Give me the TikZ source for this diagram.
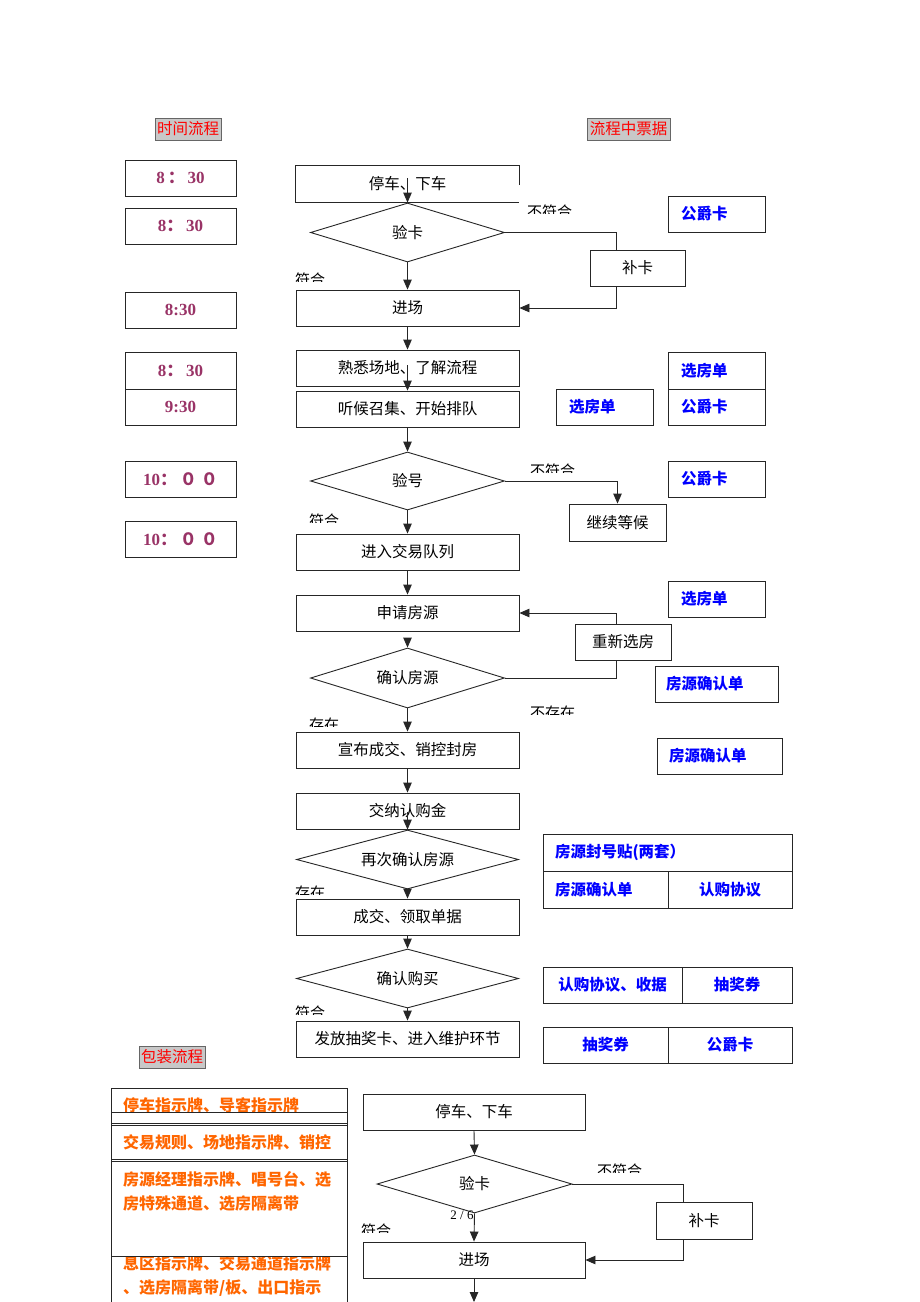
\documentclass[tikz,border=0pt]{standalone}
\usepackage{fontspec}
\setmainfont{Liberation Serif}
\newfontfamily\cjk{Noto Sans CJK SC}
\usetikzlibrary{shapes.geometric,arrows.meta}
\definecolor{tmc}{HTML}{993366}
\definecolor{lblgray}{HTML}{C8C8C8}
\definecolor{orng}{HTML}{FF6600}
\definecolor{tblue}{HTML}{0000FF}
\newcommand{\clab}[4]{% name, x, ytop, text
  \begin{scope}\clip (#2-2,#3-3) rectangle (#2+70,#3+6);
  \node[anchor=north west,inner sep=0pt,font=\cjk\fontsize{15}{15}\selectfont] (#1) at (#2,#3-2) {#4};
  \end{scope}}
\begin{document}
\begin{tikzpicture}[x=1pt,y=-1pt,
  ln/.style={draw=black!85,line width=0.9pt},
  arr/.style={ln,-{Triangle[length=10pt,width=8.5pt]}},
  fbox/.style={ln,inner sep=0pt,minimum width=223pt,minimum height=36pt,font=\cjk\fontsize{15.5}{16}\selectfont},
  dmd/.style={ln,diamond,aspect=4,inner sep=0pt,font=\cjk\fontsize{15.5}{16}\selectfont},
  sbox/.style={ln,inner sep=0pt,minimum height=36pt,font=\cjk\fontsize{15.5}{16}\selectfont},
  tbox/.style={ln,inner sep=0pt,minimum width=111pt,minimum height=36pt,text=tmc,font=\bfseries\fontsize{17}{17}\selectfont},
  pbox/.style={ln,minimum height=36pt,text=tblue,font=\cjk\bfseries\fontsize{15.5}{16}\selectfont},
  pl/.style={pbox,inner ysep=0pt,align=left},
  pc/.style={pbox,inner sep=0pt},
  glbl/.style={draw=black!60,fill=lblgray,inner sep=0pt,minimum height=22pt,text=red,font=\cjk\fontsize{15.5}{16}\selectfont},
  otxt/.style={anchor=west,inner sep=0pt,text=orng,font=\cjk\bfseries\fontsize{16}{16}\selectfont}
]
\useasboundingbox (0,0) rectangle (920,1302);
\clip (0,0) rectangle (920,1302);
\fill[white] (0,0) rectangle (920,1302);

% header labels
\node[glbl,minimum width=66pt] (h1) at (188,129) {时间流程};
\node[glbl,minimum width=83pt] (h2) at (628.5,129) {流程中票据};

% time boxes
\node[tbox] (t1) at (180.5,178) {8\,{\cjk ：}\,30};
\node[tbox] (t2) at (180.5,226) {8{\cjk ：}\,30};
\node[tbox] (t3) at (180.5,310) {8:30};
\node[tbox,minimum height=37pt] (t4) at (180.5,370.5) {8{\cjk ：}\,30};
\node[tbox] (t5) at (180.5,407) {9:30};
\node[tbox] (t6) at (180.5,479) {10{\cjk ：}\,{\cjk ０ ０}};
\node[tbox] (t7) at (180.5,539) {10{\cjk ：}\,{\cjk ０ ０}};

% main flow
\node[fbox,draw=none] (n1) at (407.5,184) {停车、下车};
\draw[ln] (n1.east |- 0,185) -- (n1.north east) -- (n1.north west) -- (n1.south west) -- (n1.south east);
\node[dmd,minimum width=194pt,minimum height=59pt] (d1) at (407.5,232.5) {验卡};
\node[fbox] (jc) at (407.5,308) {进场};
\node[fbox] (sx) at (407.5,368) {熟悉场地、了解流程};
\node[fbox] (th) at (407.5,409) {听候召集、开始排队};
\node[dmd,minimum width=194pt,minimum height=58pt] (d2) at (407.5,481) {验号};
\node[fbox] (jr) at (407.5,552) {进入交易队列};
\node[fbox] (sq) at (407.5,613) {申请房源};
\node[dmd,minimum width=194pt,minimum height=60pt] (d3) at (407.5,678) {确认房源};
\node[fbox] (xb) at (407.5,750) {宣布成交、销控封房};
\node[fbox] (jn) at (407.5,811) {交纳认购金};
\node[dmd,minimum width=222pt,minimum height=59pt] (d4) at (407.5,859.5) {再次确认房源};
\node[fbox] (cj) at (407.5,917) {成交、领取单据};
\node[dmd,minimum width=222pt,minimum height=59pt] (d5) at (407.5,978.5) {确认购买};
\node[fbox] (ff) at (407.5,1039) {发放抽奖卡、进入维护环节};

\node[sbox,minimum width=95pt] (bk) at (637.5,268) {补卡};
\node[sbox,minimum width=97pt,minimum height=37pt] (jx) at (617.5,522.5) {继续等候};
\node[sbox,minimum width=96pt] (cx) at (623,642) {重新选房};

\coordinate (s1) at (407.5,178);
\coordinate (s2) at (407.5,365);
\coordinate (s3) at (407.5,638);
\coordinate (s4) at (407.5,812);
\coordinate (k1) at (616,232.5);
\coordinate (k2) at (616,286);
\coordinate (k3) at (616,624);
\coordinate (k4) at (616,678);

\draw[arr] (s1) -- (d1.north);
\draw[ln] (d1.east) -- (k1) -- (k1 |- bk.north);
\draw[arr] (k2) |- (jc.east);
\draw[arr] (d1.south) -- (jc.north);
\draw[arr] (jc.south) -- (sx.north);
\draw[arr] (s2) -- (th.north);
\draw[arr] (th.south) -- (d2.north);
\draw[arr] (d2.east) -| (jx.north);
\draw[arr] (d2.south) -- (jr.north);
\draw[arr] (jr.south) -- (sq.north);
\draw[arr] (s3) -- (d3.north);
\draw[ln] (d3.east) -- (k4) -- (k4 |- cx.south);
\draw[arr] (k3) |- (sq.east);
\draw[arr] (d3.south) -- (xb.north);
\draw[arr] (xb.south) -- (jn.north);
\draw[arr] (s4) -- (d4.north);
\draw[arr] (d4.south) -- (cj.north);
\draw[arr] (cj.south) -- (d5.north);
\draw[arr] (d5.south) -- (ff.north);

% clipped condition labels
\clab{c1}{527}{207}{不符合}
\clab{c2}{295}{275}{符合}
\clab{c3}{530}{466}{不符合}
\clab{c4}{309}{516}{符合}
\clab{c5}{530}{708}{不存在}
\clab{c6}{309}{720}{存在}
\clab{c7}{295}{888}{存在}
\clab{c8}{295}{1008}{符合}

% ticket boxes
\node[pl,minimum width=97pt,inner xsep=13pt,text width=71pt] (p1) at (716.5,214) {公爵卡};
\node[pl,minimum width=97pt,minimum height=37pt,inner xsep=13pt,text width=71pt] (p2) at (716.5,370.5) {选房单};
\node[pl,minimum width=97pt,inner xsep=13pt,text width=71pt] (p3) at (716.5,407) {公爵卡};
\node[pl,minimum width=97pt,inner xsep=13pt,text width=71pt] (p4) at (604.5,407) {选房单};
\node[pl,minimum width=97pt,inner xsep=13pt,text width=71pt] (p5) at (716.5,479) {公爵卡};
\node[pl,minimum width=97pt,inner xsep=13pt,text width=71pt] (p6) at (716.5,599) {选房单};
\node[pl,inner xsep=11pt,text width=101pt] (p7) at (716.5,684) {房源确认单};
\node[pl,inner xsep=12pt,text width=101pt] (p8) at (719.5,756) {房源确认单};
\node[pl,minimum height=37pt,inner xsep=12pt,text width=225pt] (p9) at (667.5,852.5) {房源封号贴(两套）};
\node[pl,minimum height=37pt,inner xsep=12pt,text width=101pt] (p10) at (605.5,889.5) {房源确认单};
\node[pc,minimum width=124pt,minimum height=37pt] (p11) at (730,889.5) {认购协议};
\node[pc,minimum width=139pt] (p12) at (612.5,985) {认购协议、收据};
\node[pc,minimum width=110pt] (p13) at (737,985) {抽奖券};
\node[pc,minimum width=125pt] (p14) at (605.5,1045) {抽奖券};
\node[pc,minimum width=124pt] (p15) at (730,1045) {公爵卡};

% packaging section
\node[glbl,minimum width=66pt] (h3) at (172,1057) {包装流程};
\begin{scope}
\clip (111,1088) rectangle (347,1112);
\node[otxt] (o1) at (123,1105) {停车指示牌、导客指示牌};
\end{scope}
\node[otxt] (o2) at (123,1142) {交易规则、场地指示牌、销控};
\node[otxt] (o3) at (123,1179) {房源经理指示牌、唱号台、选};
\node[otxt] (o4) at (123,1203) {房特殊通道、选房隔离带};
\begin{scope}
\clip (111,1257) rectangle (347,1302);
\node[otxt] (o5) at (123,1263) {息区指示牌、交易通道指示牌};
\node[otxt] (o6) at (123,1288) {、选房隔离带/板、出口指示};
\end{scope}
\coordinate (ol) at (111,1088);
\coordinate (or) at (347,1088);
\draw[ln] (ol) -- (ol |- 0,1310);
\draw[ln] (or) -- (or |- 0,1310);
\foreach \yy in {1088,1112,1123,1125,1159,1161,1256}
  \draw[ln] (ol |- 0,\yy) -- (or |- 0,\yy);

\node[fbox,minimum width=222pt] (b1) at (474,1112) {停车、下车};
\node[dmd,minimum width=195pt,minimum height=58pt] (bd) at (474.5,1184) {验卡};
\node[sbox,minimum width=96pt,minimum height=37pt] (bb) at (704,1220.5) {补卡};
\node[fbox,minimum width=222pt] (bj) at (474,1260) {进场};
\node[inner sep=0pt,font=\fontsize{13}{13}\selectfont] (pg) at (462,1215) {2 / 6};
\coordinate (k5) at (683,1184);
\coordinate (k6) at (683,1239);
\coordinate (e1) at (474,1302);
\draw[ln] (k5 |- 0,1184) -- (bd.east);
\draw[ln] (k5) -- (k5 |- bb.north);
\draw[arr] (k6) |- (bj.east);
\draw[arr] (b1.south) -- (bd.north);
\draw[arr] (bd.south) -- (bj.north);
\draw[arr] (bj.south) -- (e1);
\clab{c9}{597}{1166}{不符合}
\clab{c10}{361}{1226}{符合}
\end{tikzpicture}
\end{document}
